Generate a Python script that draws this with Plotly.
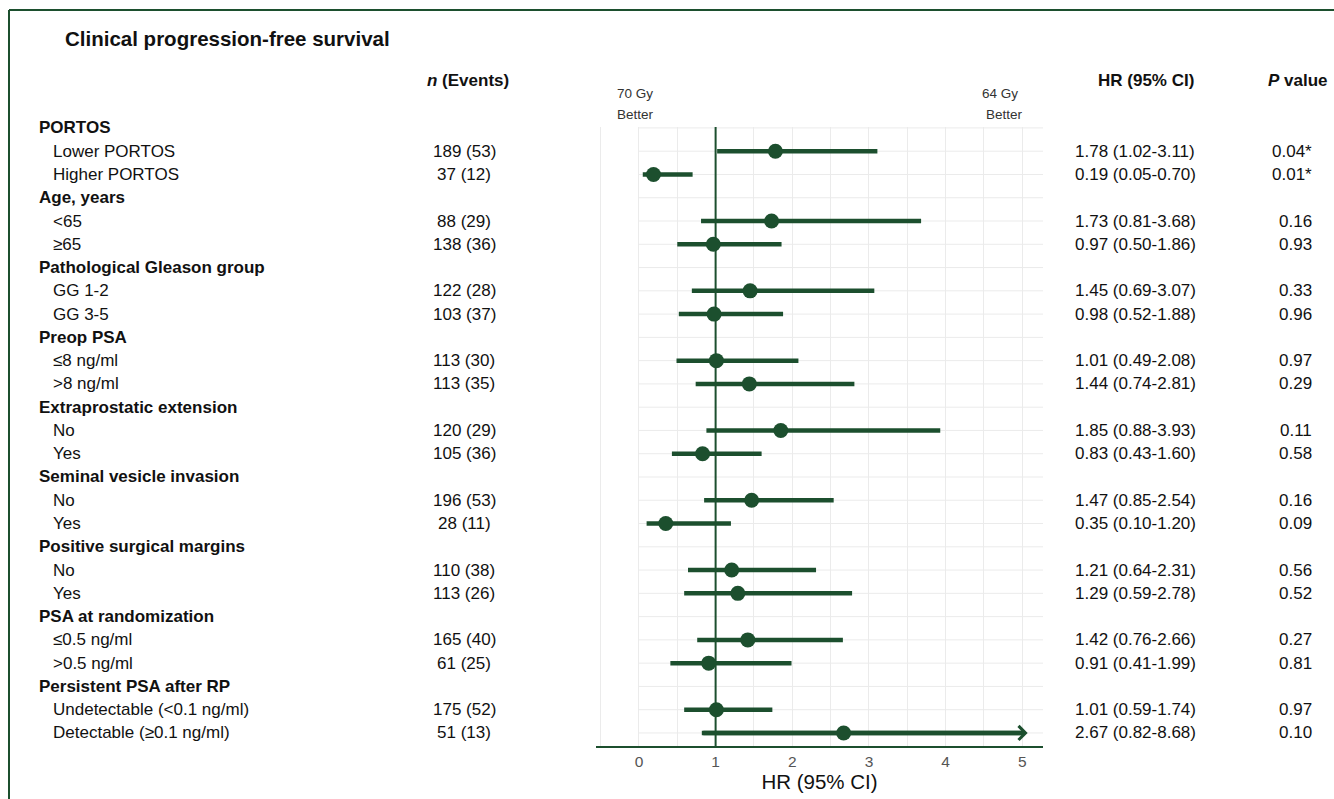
import plotly.graph_objects as go

# ---- table content -------------------------------------------------------
groups = [
    "PORTOS",
    "Age, years",
    "Pathological Gleason group",
    "Preop PSA",
    "Extraprostatic extension",
    "Seminal vesicle invasion",
    "Positive surgical margins",
    "PSA at randomization",
    "Persistent PSA after RP",
]
subgroups = [
    ["Lower PORTOS", "Higher PORTOS"],
    ["<65", "≥65"],
    ["GG 1-2", "GG 3-5"],
    ["≤8 ng/ml", ">8 ng/ml"],
    ["No", "Yes"],
    ["No", "Yes"],
    ["No", "Yes"],
    ["≤0.5 ng/ml", ">0.5 ng/ml"],
    ["Undetectable (<0.1 ng/ml)", "Detectable (≥0.1 ng/ml)"],
]
n_total = [189, 37, 88, 138, 122, 103, 113, 113, 120, 105, 196, 28, 110, 113, 165, 61, 175, 51]
n_events = [53, 12, 29, 36, 28, 37, 30, 35, 29, 36, 53, 11, 38, 26, 40, 25, 52, 13]
hr = [1.78, 0.19, 1.73, 0.97, 1.45, 0.98, 1.01, 1.44, 1.85, 0.83, 1.47, 0.35, 1.21, 1.29, 1.42, 0.91, 1.01, 2.67]
ci_low = [1.02, 0.05, 0.81, 0.50, 0.69, 0.52, 0.49, 0.74, 0.88, 0.43, 0.85, 0.10, 0.64, 0.59, 0.76, 0.41, 0.59, 0.82]
ci_high = [3.11, 0.70, 3.68, 1.86, 3.07, 1.88, 2.08, 2.81, 3.93, 1.60, 2.54, 1.20, 2.31, 2.78, 2.66, 1.99, 1.74, 8.68]
p_values = ["0.04*", "0.01*", "0.16", "0.93", "0.33", "0.96", "0.97", "0.29", "0.11",
            "0.58", "0.16", "0.09", "0.56", "0.52", "0.27", "0.81", "0.97", "0.10"]
x_ticks = [0, 1, 2, 3, 4, 5]
reference_hr = 1

# ---- styling -------------------------------------------------------------
GREEN = "#1c4f2e"
GRID = "#ebebeb"
FONT = "Arial, 'Liberation Sans', sans-serif"
W, H = 1334, 799
L, R, T, B = 596, 1043, 127, 746          # plot area in pixels
X_RANGE = [-0.56, 5.27]
X_CAP = 5.07                              # CIs beyond the axis end in an arrow


def xp(px):
    return (px - L) / (R - L)


def yp(py):
    return (B - py) / (B - T)


# ---- row layout: a header row followed by its two subgroup rows -----------
row_text, row_bold, data_rows = [], [], []
for g, subs in zip(groups, subgroups):
    row_text.append(g)
    row_bold.append(True)
    for s in subs:
        data_rows.append(len(row_text))
        row_text.append(s)
        row_bold.append(False)
n_rows = len(row_text)
Y_RANGE = [n_rows - 1 + 0.56, -0.04]

fig = go.Figure()

# horizontal row guides starting at zero
guide_x, guide_y = [], []
for r in range(n_rows):
    guide_x += [0, X_RANGE[1], None]
    guide_y += [r, r, None]
fig.add_trace(go.Scatter(x=guide_x, y=guide_y, mode="lines",
                         line=dict(color=GRID, width=1), hoverinfo="skip"))
# reference line at HR = 1
fig.add_trace(go.Scatter(x=[reference_hr, reference_hr], y=Y_RANGE, mode="lines",
                         line=dict(color=GREEN, width=2), hoverinfo="skip"))
# confidence interval segments
seg_x, seg_y = [], []
for r, lo, hi in zip(data_rows, ci_low, ci_high):
    seg_x += [lo, min(hi, X_CAP - 0.05), None]
    seg_y += [r, r, None]
fig.add_trace(go.Scatter(x=seg_x, y=seg_y, mode="lines",
                         line=dict(color=GREEN, width=4.5), hoverinfo="skip"))
# point estimates
fig.add_trace(go.Scatter(x=hr, y=data_rows, mode="markers",
                         marker=dict(color=GREEN, size=15)))

shapes = [
    # frame around the panel (top and left edges)
    dict(type="line", xref="paper", yref="paper", x0=xp(9), x1=xp(W),
         y0=yp(10), y1=yp(10), line=dict(color=GREEN, width=2)),
    dict(type="line", xref="paper", yref="paper", x0=xp(9), x1=xp(9),
         y0=yp(10), y1=yp(H), line=dict(color=GREEN, width=2)),
]

ann = []
TXT = dict(family=FONT, size=17, color="#111111")
# arrows for intervals running past the axis
for r, lo, hi in zip(data_rows, ci_low, ci_high):
    if hi > X_CAP:
        ann.append(dict(x=X_CAP, y=r, xref="x", yref="y", ax=lo, ay=r,
                        axref="x", ayref="y", text="", showarrow=True,
                        arrowhead=4, arrowsize=0.6, arrowwidth=4.5,
                        arrowcolor=GREEN))

# row labels
for i, (t, b) in enumerate(zip(row_text, row_bold)):
    ann.append(dict(x=xp(37 if b else 51), y=i, xref="paper", yref="y",
                    text=f"<b>{t}</b>" if b else t, showarrow=False,
                    xanchor="left", yanchor="middle", font=TXT))
# numeric columns
for k, r in enumerate(data_rows):
    ann.append(dict(x=xp(464), y=r, xref="paper", yref="y",
                    text=f"{n_total[k]} ({n_events[k]})", showarrow=False,
                    xanchor="center", yanchor="middle", font=TXT))
    ann.append(dict(x=xp(1135), y=r, xref="paper", yref="y",
                    text=f"{hr[k]:.2f} ({ci_low[k]:.2f}-{ci_high[k]:.2f})",
                    showarrow=False, xanchor="center", yanchor="middle", font=TXT))
    ann.append(dict(x=xp(1314), y=r, xref="paper", yref="y", text=p_values[k],
                    showarrow=False, xanchor="right", yanchor="middle", font=TXT))

# title and column headers
ann.append(dict(x=xp(63), y=yp(39), xref="paper", yref="paper",
                text="<b>Clinical progression-free survival</b>", showarrow=False,
                xanchor="left", yanchor="middle",
                font=dict(family=FONT, size=20.5, color="#111111")))
for txt, cx in [("<b><i>n</i> (Events)</b>", 468), ("<b>HR (95% CI)</b>", 1146),
                ("<b><i>P</i> value</b>", 1298)]:
    ann.append(dict(x=xp(cx), y=yp(81), xref="paper", yref="paper", text=txt,
                    showarrow=False, xanchor="center", yanchor="middle", font=TXT))
SMALL = dict(family=FONT, size=13.5, color="#333333")
for txt, cx, cy in [("70 Gy", 635, 94), ("Better", 635, 114),
                    ("64 Gy", 1000, 94), ("Better", 1004, 114)]:
    ann.append(dict(x=xp(cx), y=yp(cy), xref="paper", yref="paper", text=txt,
                    showarrow=False, xanchor="center", yanchor="middle", font=SMALL))

fig.update_layout(
    width=W, height=H,
    margin=dict(l=L, r=W - R, t=T, b=H - B, pad=0),
    paper_bgcolor="white", plot_bgcolor="white",
    shapes=shapes, annotations=ann, showlegend=False,
    xaxis=dict(range=X_RANGE, tickvals=x_ticks, showgrid=True, gridcolor=GRID,
               gridwidth=1, zeroline=False, showline=True,
               linecolor=GREEN, linewidth=2, ticks="",
               tickfont=dict(family=FONT, size=15.5, color="#555555"),
               title=dict(text="HR (95% CI)", standoff=4,
                          font=dict(family=FONT, size=20.5, color="#111111"))),
    yaxis=dict(range=Y_RANGE, showgrid=False, zeroline=False, showticklabels=False,
               showline=False),
)
# minor vertical grid at half units
fig.update_xaxes(minor=dict(dtick=0.5, tick0=0, showgrid=True, gridcolor=GRID, gridwidth=1))

fig.write_html("out.html")
